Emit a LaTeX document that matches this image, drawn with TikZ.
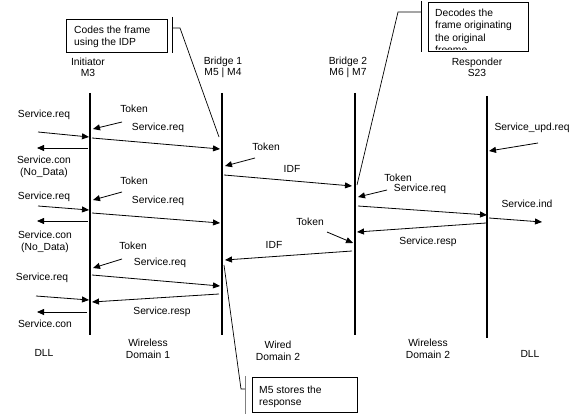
\documentclass[tikz,border=0pt]{standalone}
\usepackage{fontspec}
\setmainfont{Liberation Sans}
\usetikzlibrary{arrows.meta}
\begin{document}
\begin{tikzpicture}[x=1pt,y=-1pt,
  every node/.style={font=\fontsize{10.3}{12}\selectfont, inner sep=0pt},
  lifeline/.style={line width=1.7pt},
  msg/.style={line width=0.8pt, -{Triangle[length=7pt,width=6pt]}},
  lbl/.style={align=center},
  hdr/.style={align=center, font=\fontsize{10.3}{11.2}\selectfont},
  cbox/.style={draw, line width=0.7pt, anchor=north west},
  cline/.style={line width=0.7pt},
  ctext/.style={anchor=west, align=left, font=\fontsize{10.3}{12.3}\selectfont}]
\useasboundingbox (0,0) rectangle (575,414);

% lifelines
\coordinate (L1t) at (90,93);  \coordinate (L1b) at (90,335);
\coordinate (L2t) at (222,93); \coordinate (L2b) at (222,335);
\coordinate (L3t) at (355,93); \coordinate (L3b) at (355,335);
\coordinate (L4t) at (487,96); \coordinate (L4b) at (487,338);
\draw[lifeline] (L1t) -- (L1b);
\draw[lifeline] (L2t) -- (L2b);
\draw[lifeline] (L3t) -- (L3b);
\draw[lifeline] (L4t) -- (L4b);

% headers
\node[hdr] (hI) at (88,67.5) {Initiator\\M3};
\node[hdr] (hB1) at (223,67.5) {Bridge 1\\M5 | M4};
\node[hdr] (hB2) at (348,67.5) {Bridge 2\\M6 | M7};
\node[hdr] (hR) at (477,67.5) {Responder\\S23};

% footers
\node[lbl] (fD1) at (44,353) {DLL};
\node[lbl] (fW1) at (148,349) {Wireless\\Domain 1};
\node[lbl] (fW2) at (278,351) {Wired\\Domain 2};
\node[lbl] (fW3) at (428,349) {Wireless\\Domain 2};
\node[lbl] (fD2) at (530,354) {DLL};

% message endpoints
\coordinate (in1s) at (38,132);   \coordinate (in1e) at (89,137);
\coordinate (tk1s) at (122,122);  \coordinate (tk1e) at (93,129);
\coordinate (m1s) at (92,138);    \coordinate (m1e) at (220,149);
\coordinate (cn1s) at (88,148);   \coordinate (cn1e) at (37,148);
\coordinate (tb1s) at (255,158);  \coordinate (tb1e) at (225,166);
\coordinate (id1s) at (224,175);  \coordinate (id1e) at (352,186);
\coordinate (ups) at (538,143);   \coordinate (upe) at (489,151);
\coordinate (tb2s) at (387,190);  \coordinate (tb2e) at (358,197);
\coordinate (m2s) at (358,206);   \coordinate (m2e) at (487,215);
\coordinate (ins) at (489,218);   \coordinate (ine) at (542,222);
\coordinate (tk2s) at (122,192);  \coordinate (tk2e) at (93,200);
\coordinate (in2s) at (38,206);   \coordinate (in2e) at (89,210);
\coordinate (m3s) at (92,213);    \coordinate (m3e) at (220,223);
\coordinate (cn2s) at (88,221);   \coordinate (cn2e) at (37,221);
\coordinate (rp1s) at (486,223);  \coordinate (rp1e) at (357,232);
\coordinate (tb3s) at (327,232);  \coordinate (tb3e) at (353,243);
\coordinate (id2s) at (352,251);  \coordinate (id2e) at (225,260);
\coordinate (tk3s) at (122,259);  \coordinate (tk3e) at (93,268);
\coordinate (m4s) at (92,275);    \coordinate (m4e) at (220,286);
\coordinate (in3s) at (36,296);   \coordinate (in3e) at (89,300);
\coordinate (rp2s) at (219,294);  \coordinate (rp2e) at (92,302);
\coordinate (cn3s) at (87,312);   \coordinate (cn3e) at (37,312);

\draw[msg] (in1s) -- (in1e);
\draw[msg] (tk1s) -- (tk1e);
\draw[msg] (m1s) -- (m1e);
\draw[msg] (cn1s) -- (cn1e);
\draw[msg] (tb1s) -- (tb1e);
\draw[msg] (id1s) -- (id1e);
\draw[msg] (ups) -- (upe);
\draw[msg] (tb2s) -- (tb2e);
\draw[msg] (m2s) -- (m2e);
\draw[msg] (ins) -- (ine);
\draw[msg] (tk2s) -- (tk2e);
\draw[msg] (in2s) -- (in2e);
\draw[msg] (m3s) -- (m3e);
\draw[msg] (cn2s) -- (cn2e);
\draw[msg] (rp1s) -- (rp1e);
\draw[msg] (tb3s) -- (tb3e);
\draw[msg] (id2s) -- (id2e);
\draw[msg] (tk3s) -- (tk3e);
\draw[msg] (m4s) -- (m4e);
\draw[msg] (in3s) -- (in3e);
\draw[msg] (rp2s) -- (rp2e);
\draw[msg] (cn3s) -- (cn3e);

% message labels
\node[lbl] (lin1) at (44,115) {Service.req};
\node[lbl] (ltk1) at (134,109) {Token};
\node[lbl] (lm1) at (158,128) {Service.req};
\node[lbl] (lcn1) at (44,167) {Service.con\\(No\_Data)};
\node[lbl] (ltb1) at (266,147) {Token};
\node[lbl] (lid1) at (292,169) {IDF};
\node[lbl] (lup) at (532,128) {Service\_upd.req};
\node[lbl] (ltb2) at (398,178) {Token};
\node[lbl] (lm2) at (420,189) {Service.req};
\node[lbl] (lin) at (527,204) {Service.ind};
\node[lbl] (ltk2) at (134,181) {Token};
\node[lbl] (lin2) at (44,197) {Service.req};
\node[lbl] (lm3) at (158,201) {Service.req};
\node[lbl] (lcn2) at (45,242) {Service.con\\(No\_Data)};
\node[lbl] (lrp1) at (428,242) {Service.resp};
\node[lbl] (ltb3) at (310,222) {Token};
\node[lbl] (lid2) at (274,245) {IDF};
\node[lbl] (ltk3) at (133,246) {Token};
\node[lbl] (lm4) at (160,263) {Service.req};
\node[lbl] (lin3) at (42,278) {Service.req};
\node[lbl] (lrp2) at (162,312) {Service.resp};
\node[lbl] (lcn3) at (45,324) {Service.con};

% callout A
\node[cbox, minimum width=101pt, minimum height=33pt] (boxA) at (66,19) {};
\node[ctext] (tA) at (74,37) {Codes the frame\\using the IDP};
\coordinate (bAt) at (172,17); \coordinate (bAb) at (172,53);
\coordinate (cA1) at (172,28); \coordinate (cA2) at (180,28); \coordinate (cA3) at (219,137);
\draw[cline] (bAt) -- (bAb);
\draw[cline] (cA1) -- (cA2) -- (cA3);

% callout B
\node[cbox, minimum width=100pt, minimum height=49pt] (boxB) at (427.5,2.5) {};
\begin{scope}
\clip (427.5,2.5) rectangle (527.5,50);
\node[ctext, anchor=north west] (tB) at (435,9) {Decodes the\\frame originating\\the original\\freeme};
\end{scope}
\coordinate (bBt) at (421,1); \coordinate (bBb) at (421,52);
\coordinate (cB1) at (421,12); \coordinate (cB2) at (398,12); \coordinate (cB3) at (357,185);
\draw[cline] (bBt) -- (bBb);
\draw[cline] (cB1) -- (cB2) -- (cB3);

% callout C
\node[cbox, minimum width=105pt, minimum height=35pt] (boxC) at (252,377) {};
\node[ctext] (tC) at (259,397) {M5 stores the\\response};
\coordinate (bCt) at (245,376); \coordinate (bCb) at (245,414);
\coordinate (cC1) at (224,265); \coordinate (cC2) at (241,389); \coordinate (cC3) at (245,389);
\draw[cline, gray] (bCt) -- (bCb);
\draw[cline] (cC1) -- (cC2) -- (cC3);
\end{tikzpicture}
\end{document}
